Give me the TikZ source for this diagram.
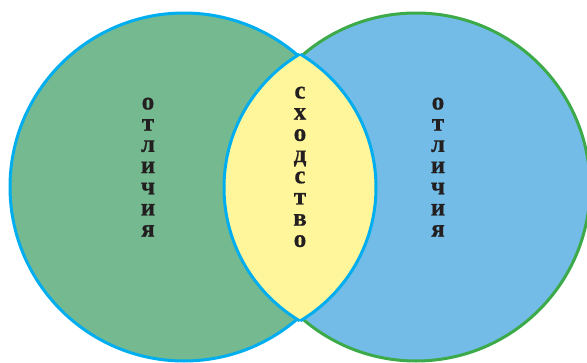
\documentclass[tikz,border=0pt]{standalone}
\usepackage{fontspec}
\setmainfont{Liberation Serif}
\newfontfamily\wordfont{Liberation Serif Bold}[FakeBold=0.6]
\definecolor{leftfill}{HTML}{74B98F}
\definecolor{rightfill}{HTML}{72BCE7}
\definecolor{lensfill}{HTML}{FFF69B}
\definecolor{blueline}{HTML}{00AEEF}
\definecolor{greenline}{HTML}{3DAA49}
\definecolor{ink}{HTML}{231F20}
\tikzset{
  word/.style={anchor=north, inner sep=0pt, align=center, text=ink,
    font=\wordfont\fontsize{25}{21.2}\selectfont},
  ring/.style={line width=3pt}
}
\begin{document}
\begin{tikzpicture}[x=1pt,y=-1pt]
\useasboundingbox (0,0) rectangle (587,362);
% circles
\fill[leftfill] (184,187) circle (174);
\fill[rightfill] (416,187) circle (174);
\draw[ring, greenline] (416,187) circle (174);
\draw[ring, blueline] (184,187) circle (174);
% lens
\begin{scope}
  \clip (379.25,187.5) circle (155.25);
  \fill[lensfill] (220.75,187.5) circle (155.25);
  \draw[ring, blueline] (220.75,187.5) circle (155.25);
\end{scope}
\begin{scope}
  \clip (220.75,187.5) circle (155.25);
  \draw[ring, blueline] (379.25,187.5) circle (155.25);
\end{scope}
% texts
\node[word] (leftword) at (148,97.5) {о\\т\\л\\и\\ч\\и\\я};
\node[word] (midword) at (300,86.5) {с\\х\\о\\д\\с\\т\\в\\о};
\node[word] (rightword) at (438,97.5) {о\\т\\л\\и\\ч\\и\\я};
\end{tikzpicture}
\end{document}
